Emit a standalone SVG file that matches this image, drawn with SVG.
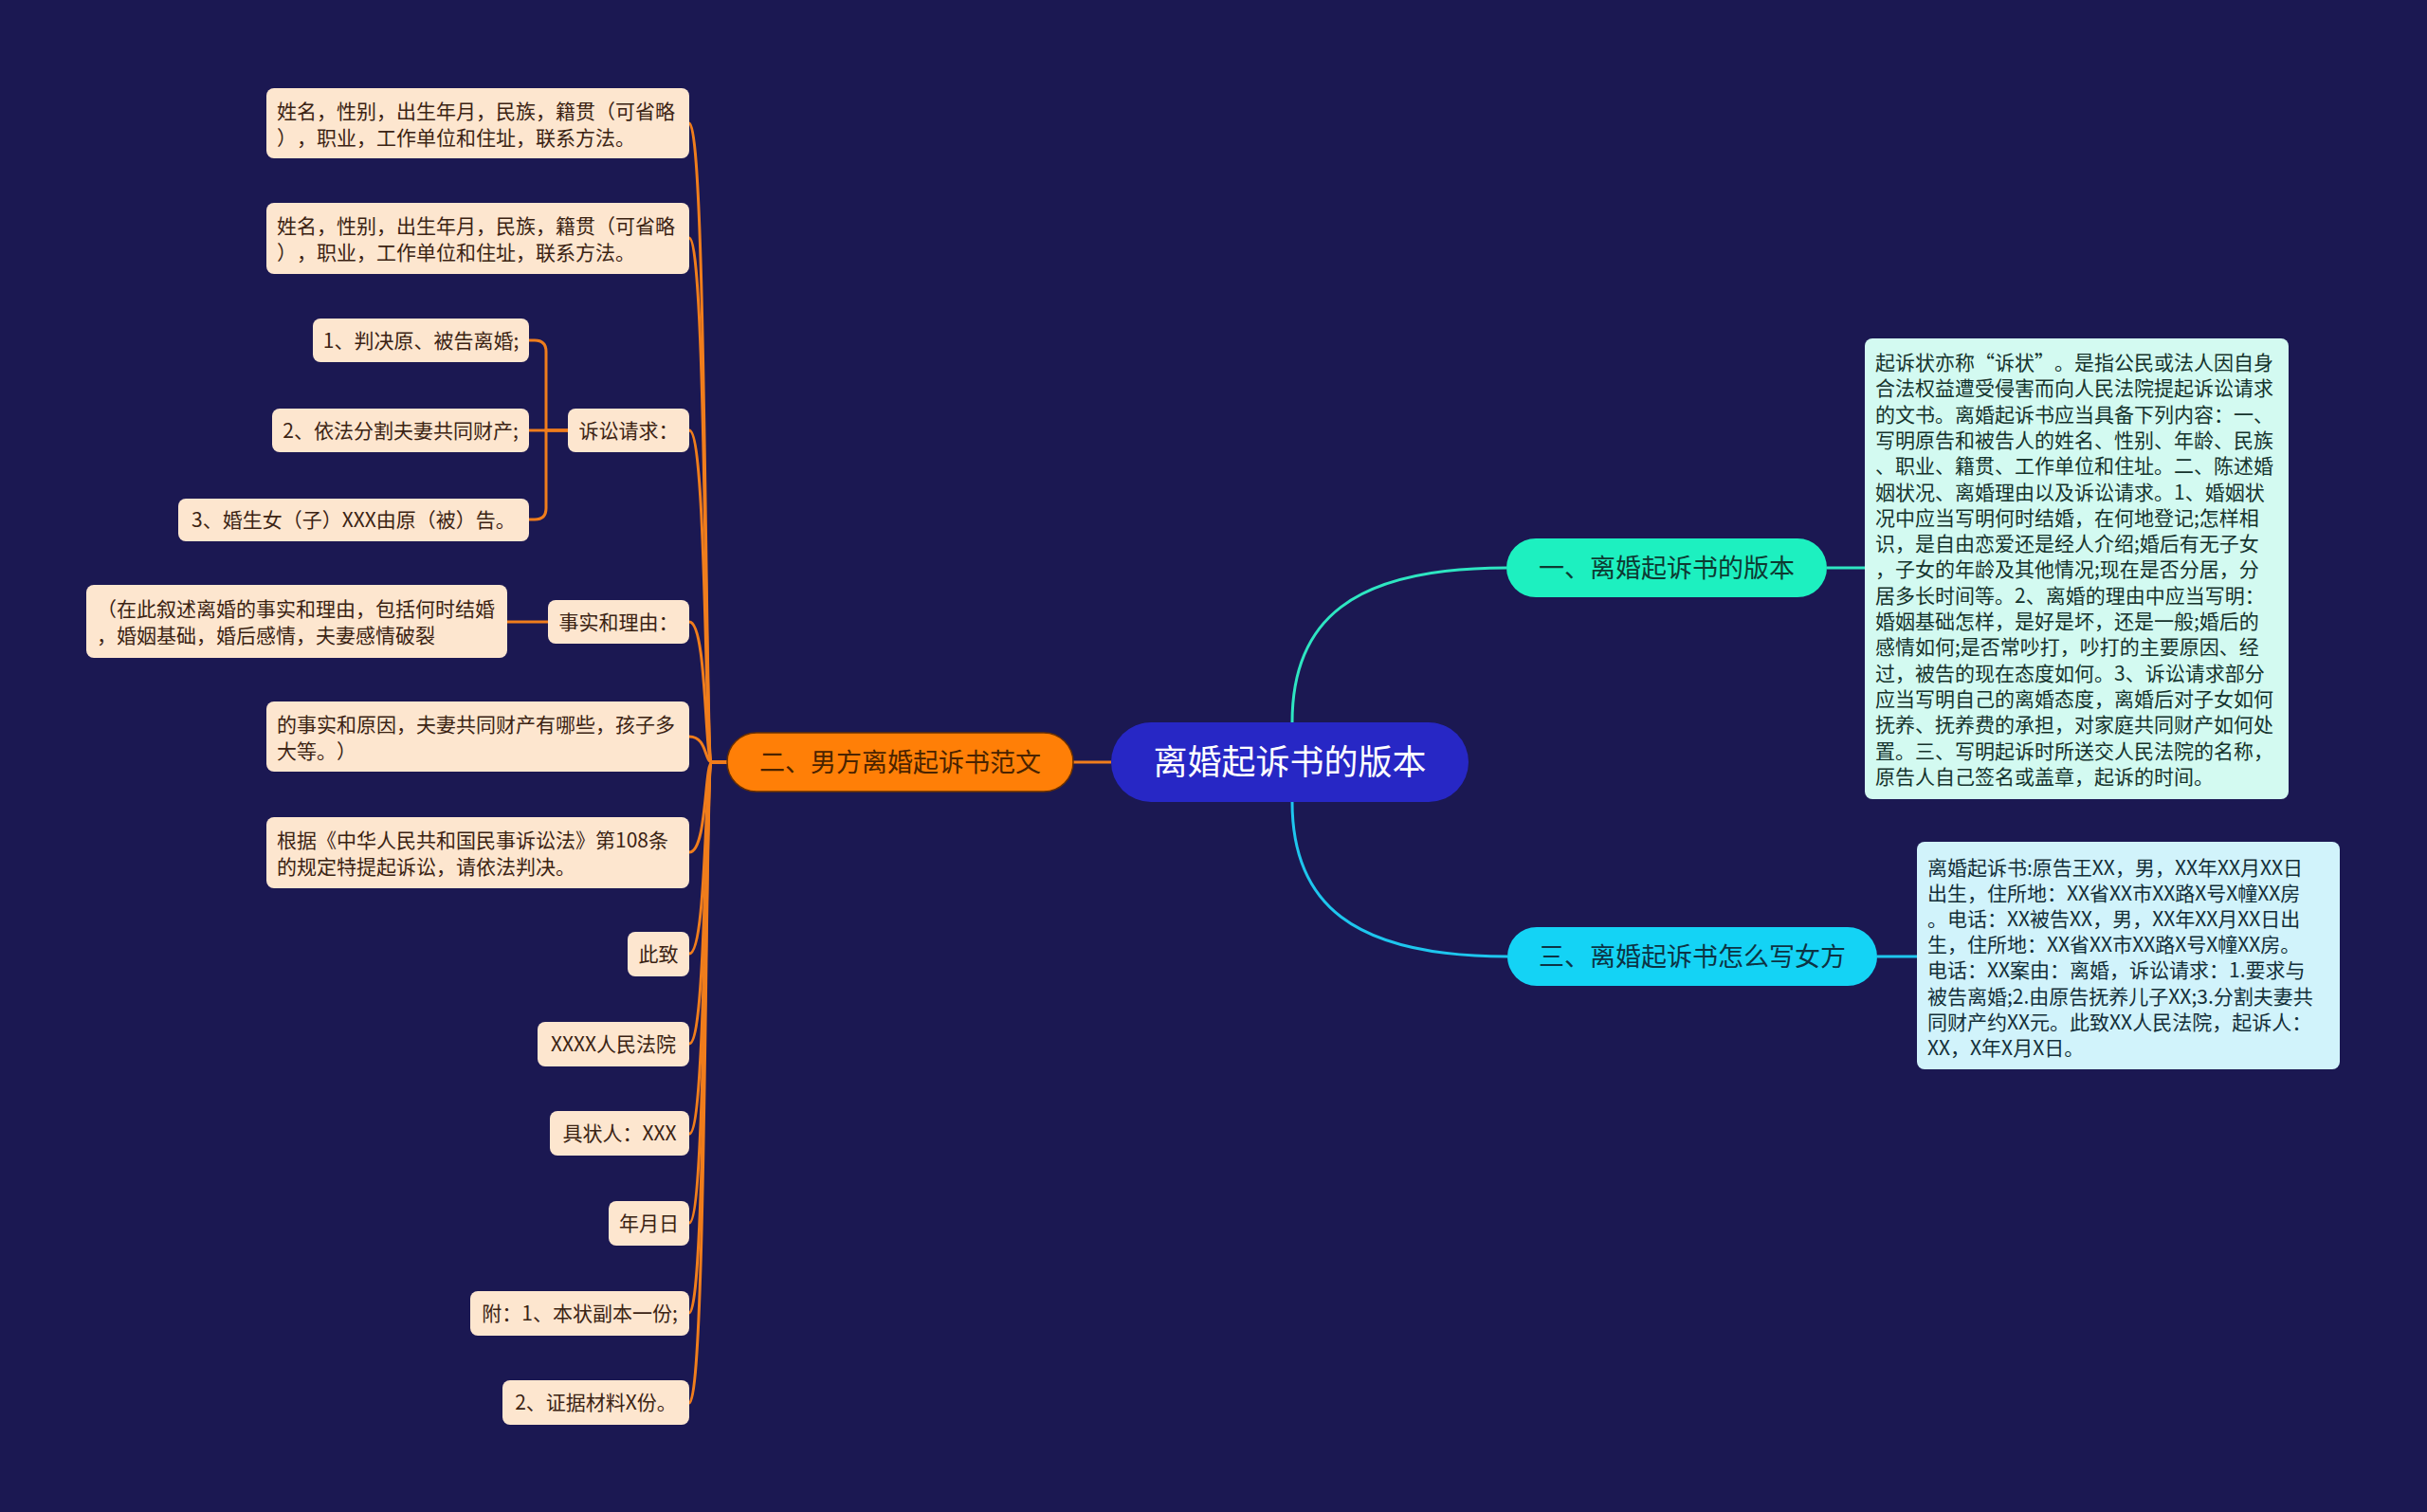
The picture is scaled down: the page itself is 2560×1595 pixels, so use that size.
<svg xmlns="http://www.w3.org/2000/svg" width="2560" height="1595" viewBox="0 0 2560 1595">
<style>
text{font-family:"Noto Sans CJK SC","Noto Sans",sans-serif;text-spacing-trim:space-all}
.bg{fill:#1b1852}
.leaf{fill:#fde6cf}
.lt{font-size:21px;fill:#3b2313}
.lc{font-size:21px;fill:#3b2313;text-anchor:middle}
.or{fill:none;stroke:#f07d1c;stroke-width:3}
.tl{fill:none;stroke:#2ee6c2;stroke-width:3}
.cy{fill:none;stroke:#1ec6ee;stroke-width:3}
.bt{font-size:27px;text-anchor:middle}
.dt1{font-size:21px;fill:#15332d}
.dt2{font-size:21px;fill:#132f39}
</style>
<rect class="bg" x="0" y="0" width="2560" height="1595"/>
<g id="connectors">
<path class="or" d="M1172,804 L1132,804"/>
<path class="or" d="M767,804 L751,804 C743,804 746,130 727,130"/>
<path class="or" d="M767,804 L751,804 C743,804 746,251 727,251"/>
<path class="or" d="M767,804 L751,804 C743,804 746,454 727,454"/>
<path class="or" d="M767,804 L751,804 C743,804 746,656 727,656"/>
<path class="or" d="M767,804 L751,804 C743,804 746,777 727,777"/>
<path class="or" d="M767,804 L751,804 C743,804 746,899 727,899"/>
<path class="or" d="M767,804 L751,804 C743,804 746,1006 727,1006"/>
<path class="or" d="M767,804 L751,804 C743,804 746,1101 727,1101"/>
<path class="or" d="M767,804 L751,804 C743,804 746,1196 727,1196"/>
<path class="or" d="M767,804 L751,804 C743,804 746,1290 727,1290"/>
<path class="or" d="M767,804 L751,804 C743,804 746,1385 727,1385"/>
<path class="or" d="M767,804 L751,804 C743,804 746,1480 727,1480"/>
<path class="or" d="M599,454 L576,454 L576,371 Q576,359 564,359 L558,359"/>
<path class="or" d="M599,454 L558,454"/>
<path class="or" d="M599,454 L576,454 L576,536 Q576,548 564,548 L558,548"/>
<path class="or" d="M578,656 L535,656"/>
<path class="tl" d="M1363,762 C1363,655 1425,599 1589,599"/>
<path class="tl" d="M1927,599 L1967,599"/>
<path class="cy" d="M1363,846 C1363,952 1425,1009 1590,1009"/>
<path class="cy" d="M1980,1009 L2022,1009"/>
</g>
<g id="center">
<rect x="1172" y="762" width="377" height="84" rx="42" fill="#2727c5"/>
<text x="1360.5" y="817" font-size="36" fill="#ffffff" text-anchor="middle">离婚起诉书的版本</text>
</g>
<g id="branch1">
<rect x="1589" y="568" width="338" height="62" rx="31" fill="#1df0c0"/>
<text class="bt" x="1758" y="608.5" fill="#0d3a32">一、离婚起诉书的版本</text>
</g>
<g id="branch2">
<rect x="767" y="773" width="365" height="62" rx="31" fill="#ff7f07" stroke="#6a3000" stroke-width="1.5"/>
<text class="bt" x="949.5" y="813.5" fill="#4a2300">二、男方离婚起诉书范文</text>
</g>
<g id="branch3">
<rect x="1590" y="978" width="390" height="62" rx="31" fill="#14d3f5"/>
<text class="bt" x="1785" y="1018.5" fill="#0c3344">三、离婚起诉书怎么写女方</text>
</g>
<g id="detail1">
<rect x="1967" y="357" width="447" height="486" rx="8" fill="#d3faf1"/>
<text class="dt1">
<tspan x="1978" y="390">起诉状亦称“诉状”。是指公民或法人因自身</tspan>
<tspan x="1978" y="417.3">合法权益遭受侵害而向人民法院提起诉讼请求</tspan>
<tspan x="1978" y="444.6">的文书。离婚起诉书应当具备下列内容：一、</tspan>
<tspan x="1978" y="471.9">写明原告和被告人的姓名、性别、年龄、民族</tspan>
<tspan x="1978" y="499.2">、职业、籍贯、工作单位和住址。二、陈述婚</tspan>
<tspan x="1978" y="526.5">姻状况、离婚理由以及诉讼请求。1、婚姻状</tspan>
<tspan x="1978" y="553.8">况中应当写明何时结婚，在何地登记;怎样相</tspan>
<tspan x="1978" y="581.1">识，是自由恋爱还是经人介绍;婚后有无子女</tspan>
<tspan x="1978" y="608.4">，子女的年龄及其他情况;现在是否分居，分</tspan>
<tspan x="1978" y="635.7">居多长时间等。2、离婚的理由中应当写明：</tspan>
<tspan x="1978" y="663">婚姻基础怎样，是好是坏，还是一般;婚后的</tspan>
<tspan x="1978" y="690.3">感情如何;是否常吵打，吵打的主要原因、经</tspan>
<tspan x="1978" y="717.6">过，被告的现在态度如何。3、诉讼请求部分</tspan>
<tspan x="1978" y="744.9">应当写明自己的离婚态度，离婚后对子女如何</tspan>
<tspan x="1978" y="772.2">抚养、抚养费的承担，对家庭共同财产如何处</tspan>
<tspan x="1978" y="799.5">置。三、写明起诉时所送交人民法院的名称，</tspan>
<tspan x="1978" y="826.8">原告人自己签名或盖章，起诉的时间。</tspan>
</text>
</g>
<g id="detail2">
<rect x="2022" y="888" width="446" height="240" rx="8" fill="#d1f3fb"/>
<text class="dt2">
<tspan x="2033" y="923">离婚起诉书:原告王XX，男，XX年XX月XX日</tspan>
<tspan x="2033" y="950.1">出生，住所地：XX省XX市XX路X号X幢XX房</tspan>
<tspan x="2033" y="977.2">。电话：XX被告XX，男，XX年XX月XX日出</tspan>
<tspan x="2033" y="1004.3">生，住所地：XX省XX市XX路X号X幢XX房。</tspan>
<tspan x="2033" y="1031.4">电话：XX案由：离婚，诉讼请求：1.要求与</tspan>
<tspan x="2033" y="1058.5">被告离婚;2.由原告抚养儿子XX;3.分割夫妻共</tspan>
<tspan x="2033" y="1085.6">同财产约XX元。此致XX人民法院，起诉人：</tspan>
<tspan x="2033" y="1112.7">XX，X年X月X日。</tspan>
</text>
</g>
<g id="leaf1">
<rect class="leaf" x="281" y="93" width="446" height="74" rx="8"/>
<text class="lt"><tspan x="292" y="125">姓名，性别，出生年月，民族，籍贯（可省略</tspan><tspan x="292" y="153">），职业，工作单位和住址，联系方法。</tspan></text>
</g>
<g id="leaf2">
<rect class="leaf" x="281" y="214" width="446" height="75" rx="8"/>
<text class="lt"><tspan x="292" y="246">姓名，性别，出生年月，民族，籍贯（可省略</tspan><tspan x="292" y="274">），职业，工作单位和住址，联系方法。</tspan></text>
</g>
<g id="leaf3">
<rect class="leaf" x="599" y="431" width="128" height="46" rx="8"/>
<text class="lc" x="663" y="461.5">诉讼请求：</text>
</g>
<g id="leaf3a">
<rect class="leaf" x="330" y="336" width="228" height="46" rx="8"/>
<text class="lc" x="444" y="366.5">1、判决原、被告离婚;</text>
</g>
<g id="leaf3b">
<rect class="leaf" x="287" y="431" width="271" height="46" rx="8"/>
<text class="lc" x="422.5" y="461.5">2、依法分割夫妻共同财产;</text>
</g>
<g id="leaf3c">
<rect class="leaf" x="188" y="526" width="370" height="45" rx="8"/>
<text class="lc" x="373" y="555.5">3、婚生女（子）XXX由原（被）告。</text>
</g>
<g id="leaf4">
<rect class="leaf" x="578" y="633" width="149" height="46" rx="8"/>
<text class="lc" x="652.5" y="663.5">事实和理由：</text>
</g>
<g id="leaf4a">
<rect class="leaf" x="91" y="617" width="444" height="77" rx="8"/>
<text class="lt"><tspan x="102" y="650">（在此叙述离婚的事实和理由，包括何时结婚</tspan><tspan x="102" y="678">，婚姻基础，婚后感情，夫妻感情破裂</tspan></text>
</g>
<g id="leaf5">
<rect class="leaf" x="281" y="740" width="446" height="74" rx="8"/>
<text class="lt"><tspan x="292" y="772">的事实和原因，夫妻共同财产有哪些，孩子多</tspan><tspan x="292" y="800">大等。）</tspan></text>
</g>
<g id="leaf6">
<rect class="leaf" x="281" y="862" width="446" height="75" rx="8"/>
<text class="lt"><tspan x="292" y="894">根据《中华人民共和国民事诉讼法》第108条</tspan><tspan x="292" y="922">的规定特提起诉讼，请依法判决。</tspan></text>
</g>
<g id="leaf7">
<rect class="leaf" x="662" y="983" width="65" height="47" rx="8"/>
<text class="lc" x="694.5" y="1013.5">此致</text>
</g>
<g id="leaf8">
<rect class="leaf" x="567" y="1078" width="160" height="47" rx="8"/>
<text class="lc" x="647" y="1108.5">XXXX人民法院</text>
</g>
<g id="leaf9">
<rect class="leaf" x="580" y="1172" width="147" height="47" rx="8"/>
<text class="lc" x="653.5" y="1203">具状人：XXX</text>
</g>
<g id="leaf10">
<rect class="leaf" x="642" y="1267" width="85" height="47" rx="8"/>
<text class="lc" x="684.5" y="1297.5">年月日</text>
</g>
<g id="leaf11">
<rect class="leaf" x="496" y="1362" width="231" height="47" rx="8"/>
<text class="lc" x="611.5" y="1392.5">附：1、本状副本一份;</text>
</g>
<g id="leaf12">
<rect class="leaf" x="530" y="1456" width="197" height="47" rx="8"/>
<text class="lc" x="628.5" y="1487">2、证据材料X份。</text>
</g>
</svg>
